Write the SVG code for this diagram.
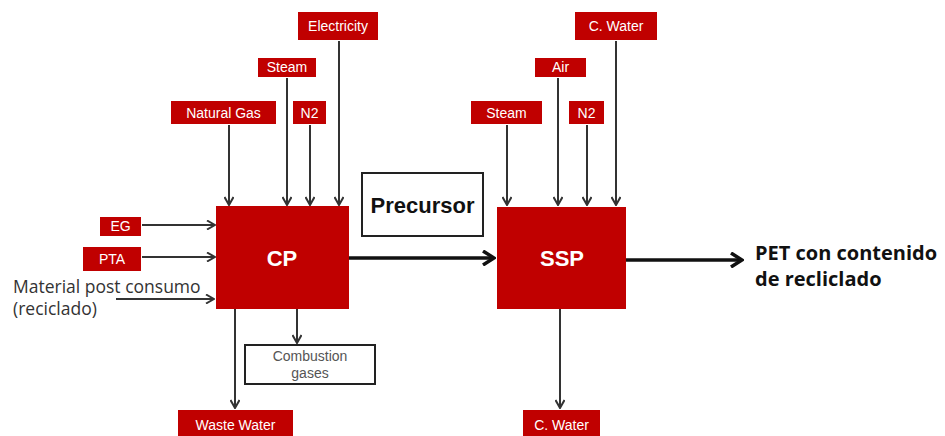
<svg xmlns="http://www.w3.org/2000/svg" width="945" height="436" viewBox="0 0 945 436">
<defs>
<style>
.rb{fill:#C00000}
.lb{font-family:"Liberation Sans",Arial,sans-serif;font-size:14px;fill:#fff;text-anchor:middle}
.big{font-family:"Liberation Sans",Arial,sans-serif;font-size:22px;font-weight:bold;fill:#fff;text-anchor:middle}
.thin{stroke:#333;stroke-width:2;fill:none}
.thick{stroke:#111;stroke-width:3.5;fill:none}
.cal{font-family:"Open Sans","Noto Sans",sans-serif}
</style>
<marker id="ah" viewBox="0 0 10 10" refX="9" refY="5" markerWidth="10" markerHeight="10" markerUnits="userSpaceOnUse" orient="auto">
<path d="M1,0.5 L9,5 L1,9.5" fill="none" stroke="#333" stroke-width="2"/>
</marker>
<marker id="ahb" viewBox="0 0 16 16" refX="14" refY="8" markerWidth="16" markerHeight="16" markerUnits="userSpaceOnUse" orient="auto">
<path d="M3,1 L14,8 L3,15" fill="none" stroke="#111" stroke-width="3.5"/>
</marker>
</defs>
<rect width="945" height="436" fill="#fff"/>

<g id="connectors">
<line class="thin" x1="229" y1="125" x2="229" y2="205" marker-end="url(#ah)"/>
<line class="thin" x1="287" y1="78" x2="287" y2="205" marker-end="url(#ah)"/>
<line class="thin" x1="310" y1="125" x2="310" y2="205" marker-end="url(#ah)"/>
<line class="thin" x1="339" y1="41" x2="339" y2="205" marker-end="url(#ah)"/>
<line class="thin" x1="142" y1="225" x2="215" y2="225" marker-end="url(#ah)"/>
<line class="thin" x1="142" y1="257" x2="215" y2="257" marker-end="url(#ah)"/>
<line class="thin" x1="116" y1="299" x2="214" y2="299" marker-end="url(#ah)"/>
<line class="thin" x1="235" y1="309" x2="235" y2="408" marker-end="url(#ah)"/>
<line class="thin" x1="297" y1="309" x2="297" y2="343" marker-end="url(#ah)"/>
<line class="thin" x1="507" y1="125" x2="507" y2="205" marker-end="url(#ah)"/>
<line class="thin" x1="558" y1="78" x2="558" y2="205" marker-end="url(#ah)"/>
<line class="thin" x1="587" y1="125" x2="587" y2="205" marker-end="url(#ah)"/>
<line class="thin" x1="616" y1="41" x2="616" y2="205" marker-end="url(#ah)"/>
<line class="thin" x1="560" y1="309" x2="560" y2="408" marker-end="url(#ah)"/>
<line class="thick" x1="349" y1="258" x2="494" y2="258" marker-end="url(#ahb)"/>
<line class="thick" x1="626" y1="260" x2="742" y2="260" marker-end="url(#ahb)"/>
</g>

<g id="electricity"><rect class="rb" x="298" y="12" width="80" height="28"/><text class="lb" x="338" y="31">Electricity</text></g>
<g id="steam-cp"><rect class="rb" x="258" y="58" width="58" height="19"/><text class="lb" x="287" y="72">Steam</text></g>
<g id="natural-gas"><rect class="rb" x="171" y="101" width="105" height="23"/><text class="lb" x="223.5" y="117.5">Natural Gas</text></g>
<g id="n2-cp"><rect class="rb" x="293" y="101" width="33" height="23"/><text class="lb" x="309.5" y="117.5">N2</text></g>
<g id="eg"><rect class="rb" x="100" y="217" width="41" height="19"/><text class="lb" x="120.5" y="231">EG</text></g>
<g id="pta"><rect class="rb" x="83" y="247" width="58" height="24"/><text class="lb" x="112" y="264">PTA</text></g>
<g id="material"><text class="cal" font-size="17.5" fill="#333" x="13" y="293">Material post consumo</text><text class="cal" font-size="17.5" fill="#333" x="13" y="315">(reciclado)</text></g>
<g id="cp"><rect class="rb" x="216" y="206" width="133" height="103"/><text class="big" x="282" y="266">CP</text></g>
<g id="combustion"><rect x="245" y="345" width="130" height="39" fill="#fff" stroke="#222" stroke-width="2"/><text class="lb" style="fill:#555" x="310" y="361">Combustion</text><text class="lb" style="fill:#555" x="310" y="378">gases</text></g>
<g id="waste-water"><rect class="rb" x="178" y="410" width="115" height="28"/><text class="lb" x="235.5" y="430">Waste Water</text></g>
<g id="precursor"><rect x="362" y="173" width="121" height="63" fill="#fff" stroke="#222" stroke-width="2"/><text x="422.5" y="213" font-family="Liberation Sans,Arial,sans-serif" font-size="22" font-weight="bold" fill="#111" text-anchor="middle">Precursor</text></g>
<g id="cwater-top"><rect class="rb" x="575" y="12" width="82" height="28"/><text class="lb" x="616" y="31">C. Water</text></g>
<g id="air"><rect class="rb" x="535" y="58" width="51" height="19"/><text class="lb" x="560.5" y="72">Air</text></g>
<g id="steam-ssp"><rect class="rb" x="471" y="101" width="71" height="23"/><text class="lb" x="506.5" y="117.5">Steam</text></g>
<g id="n2-ssp"><rect class="rb" x="569" y="101" width="35" height="23"/><text class="lb" x="586.5" y="117.5">N2</text></g>
<g id="ssp"><rect class="rb" x="497" y="207" width="129" height="102"/><text class="big" x="562" y="266">SSP</text></g>
<g id="cwater-bottom"><rect class="rb" x="523" y="410" width="77" height="28"/><text class="lb" x="561.5" y="430">C. Water</text></g>
<g id="pet"><text class="cal" font-size="20" font-weight="bold" fill="#111" x="755" y="260">PET con contenido</text><text class="cal" font-size="20" font-weight="bold" fill="#111" x="755" y="286">de recliclado</text></g>
</svg>
